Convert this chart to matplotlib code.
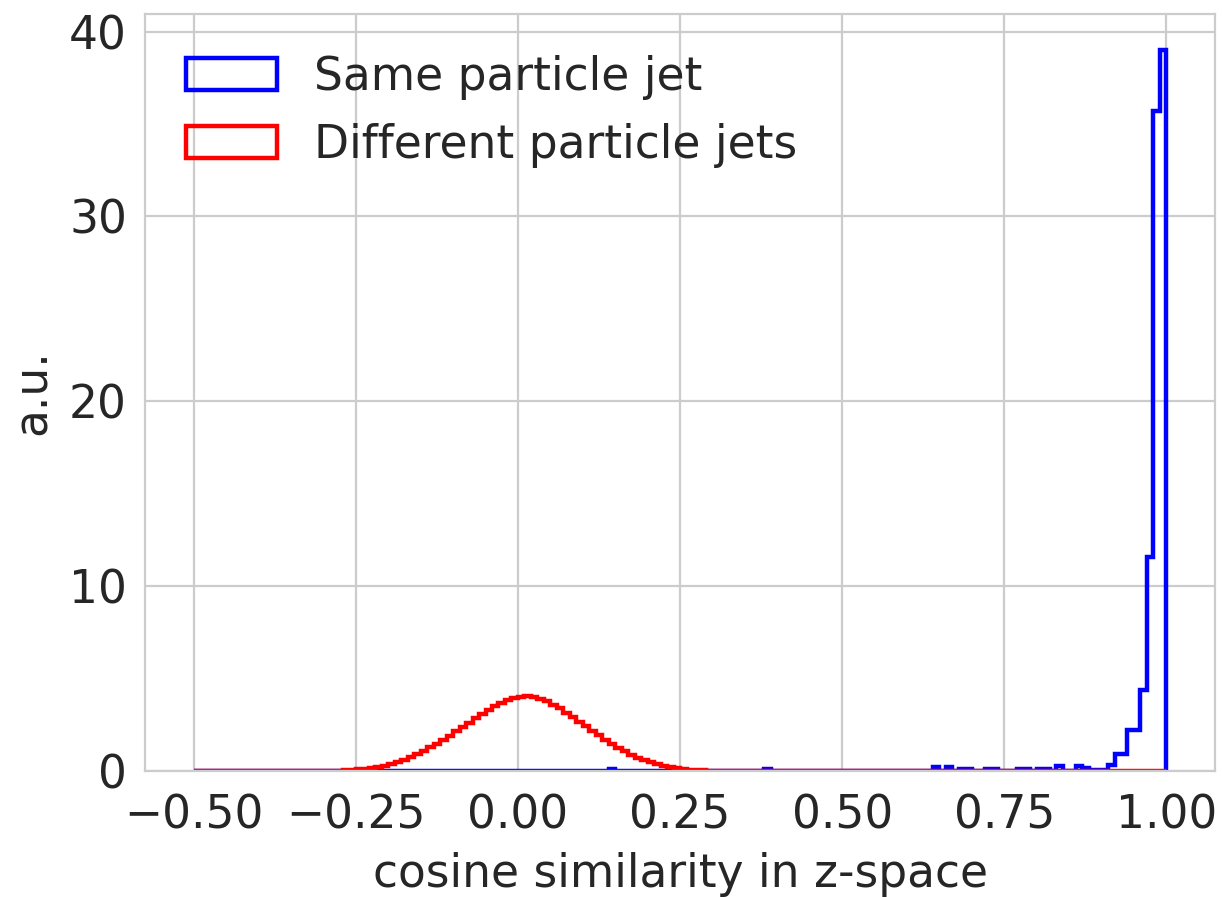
import numpy as np
import matplotlib
matplotlib.use("Agg")
import matplotlib.pyplot as plt
import seaborn as sns

# Shared binning for both distributions: 150 bins of width 0.01 on [-0.5, 1.0]
bin_lo, bin_hi, n_bins = -0.5, 1.0, 150

# Different particle jets: density per bin, first bin starting at -0.28
diff_start = -0.28
diff_density = [
    0.02, 0.03, 0.05, 0.08, 0.11, 0.15, 0.20, 0.27, 0.36, 0.47,
    0.60, 0.75, 0.91, 1.08, 1.27, 1.47, 1.68, 1.91, 2.14, 2.38,
    2.61, 2.85, 3.08, 3.30, 3.52, 3.70, 3.84, 3.95, 4.02, 4.04,
    4.00, 3.90, 3.76, 3.59, 3.38, 3.15, 2.91, 2.66, 2.41, 2.16,
    1.92, 1.69, 1.47, 1.26, 1.06, 0.88, 0.72, 0.58, 0.46, 0.36,
    0.27, 0.20, 0.15, 0.10, 0.07, 0.05, 0.03, 0.02,
]

# Same particle jet: density per bin, first bin starting at 0.64
same_start = 0.64
same_density = [
    0.20, 0.00, 0.20, 0.00, 0.10, 0.10, 0.00, 0.00, 0.10, 0.10,
    0.00, 0.00, 0.00, 0.10, 0.10, 0.00, 0.10, 0.10, 0.00, 0.25,
    0.00, 0.00, 0.25, 0.15, 0.05, 0.05, 0.05, 0.30, 0.90, 0.90,
    2.20, 2.20, 4.40, 11.6, 35.7, 39.0,
]
# isolated low-similarity entries of the same-jet sample
same_outlier_bins = [0.14, 0.38]
same_outlier_density = [0.10, 0.10]

xticks = [-0.50, -0.25, 0.00, 0.25, 0.50, 0.75, 1.00]
yticks = [0, 10, 20, 30, 40]

sns.set_style("whitegrid")
plt.rcParams["font.family"] = ["DejaVu Sans"]
fs = 16.4
plt.rcParams["font.size"] = fs

edges = np.linspace(bin_lo, bin_hi, n_bins + 1)
centers = 0.5 * (edges[:-1] + edges[1:])


def fill(start, values):
    w = np.zeros(n_bins)
    i0 = int(round((start - bin_lo) / 0.01))
    w[i0:i0 + len(values)] = values
    return w


same_w = fill(same_start, same_density)
for b, v in zip(same_outlier_bins, same_outlier_density):
    same_w += fill(b, [v])
diff_w = fill(diff_start, diff_density)

fig = plt.figure(figsize=(6.11, 4.485), dpi=200)
ax = fig.add_axes([0.1187, 0.1405, 0.8756, 0.8439])

ax.hist(centers, bins=edges, weights=same_w, histtype="step",
        color="blue", linewidth=1.6, label="Same particle jet")
ax.hist(centers, bins=edges, weights=diff_w, histtype="step",
        color="red", linewidth=1.6, label="Different particle jets")

ax.set_xticks(xticks)
ax.set_yticks(yticks)
ax.tick_params(axis="x", labelsize=fs, pad=4.5)
ax.tick_params(axis="y", labelsize=fs, pad=3)
ax.set_xlabel("cosine similarity in z-space", fontsize=fs, labelpad=5)
ax.set_ylabel("a.u.", fontsize=fs, labelpad=5)
ax.legend(loc="upper left", frameon=False, fontsize=fs)

fig.savefig("out.png", dpi=200)
